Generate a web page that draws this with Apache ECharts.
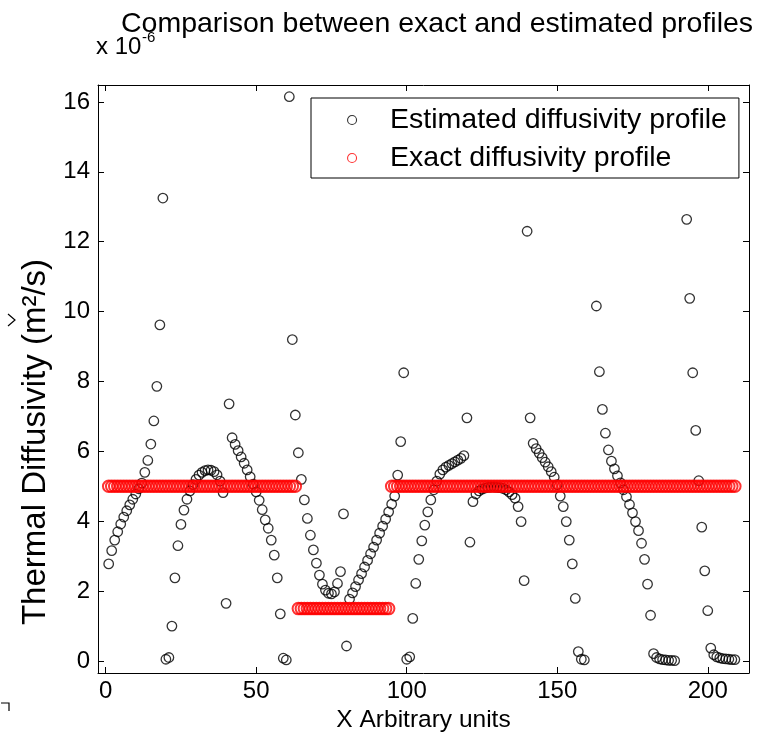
<!DOCTYPE html>
<html>
<head>
<meta charset="utf-8">
<script src="https://cdn.jsdelivr.net/npm/echarts@6/dist/echarts.min.js"></script>
<style>
html,body{margin:0;padding:0;background:#fff;}
#chart{width:762px;height:743px;}
</style>
</head>
<body>
<div id="chart"></div>
<script>
// ---- data (values in units of 1e-6 m^2/s) ----
const titleText = 'Comparison between exact and estimated profiles';
const xName = 'X Arbitrary units';
const yName = 'Thermal Diffusivity (m\u00B2/s)';
const xTicks = [0, 50, 100, 150, 200];
const yTicks = [0, 2, 4, 6, 8, 10, 12, 14, 16];

// Estimated profile, one value per x = 1 .. 209 (null = no visible point)
const estimatedY = [
  2.78, 3.16, 3.46, 3.70, 3.92, 4.12, 4.30, 4.47, 4.63, 4.78,   // 1-10
  4.93, 5.09, 5.40, 5.74, 6.21, 6.87, 7.86, 9.62, 13.25, 0.05,  // 11-20
  0.10, 1.00, 2.38, 3.30, 3.91, 4.32, 4.63, 4.87, 5.05, 5.20,   // 21-30
  5.32, 5.40, 5.45, 5.47, 5.46, 5.42, 5.33, 5.15, 4.82, 1.65,   // 31-40
  7.36, 6.39, 6.20, 6.02, 5.84, 5.66, 5.47, 5.27, 5.06, 4.84,   // 41-50
  4.60, 4.33, 4.04, 3.80, 3.46, 3.03, 2.38, 1.35, 0.08, 0.03,   // 51-60
  16.15, 9.20, 7.04, 5.96, 5.20, 4.61, 4.08, 3.60, 3.18, 2.80,  // 61-70
  2.46, 2.20, 2.03, 1.94, 1.92, 1.98, 2.22, 2.56, 4.21, 0.43,   // 71-80
  1.77, 1.95, 2.13, 2.32, 2.50, 2.69, 2.88, 3.07, 3.26, 3.46,   // 81-90
  3.66, 3.86, 4.06, 4.27, 4.49, 4.72, 5.32, 6.28, 8.25, 0.05,   // 91-100
  0.12, 1.22, 2.22, 2.91, 3.44, 3.89, 4.27, 4.61, 4.90, 5.15,   // 101-110
  5.35, 5.47, 5.55, 5.60, 5.65, 5.70, 5.75, 5.80, 5.88, 6.96,   // 111-120
  3.40, 4.56, 4.78, 4.87, 4.92, 4.95, 4.97, 4.98, 4.98, 4.97,   // 121-130
  4.96, 4.94, 4.90, 4.84, 4.76, 4.66, 4.42, 3.99, 2.30, 12.30,  // 131-140
  6.96, 6.23, 6.08, 5.95, 5.82, 5.69, 5.56, 5.42, 5.26, 5.05,   // 141-150
  4.72, 4.42, 3.99, 3.46, 2.78, 1.79, 0.27, 0.05, 0.03, null,   // 151-160
  null, null, 10.16, 8.28, 7.20, 6.52, 6.04, 5.72, 5.50, 5.30,  // 161-170
  5.10, 4.90, 4.70, 4.48, 4.24, 3.99, 3.73, 3.37, 2.91, 2.20,   // 171-180
  1.31, 0.21, 0.10, 0.06, 0.04, 0.03, 0.02, 0.02, 0.01, null,   // 181-190
  null, null, 12.64, 10.38, 8.25, 6.60, 5.16, 3.83, 2.58, 1.44, // 191-200
  0.37, 0.18, 0.12, 0.09, 0.07, 0.06, 0.05, 0.04, 0.04          // 201-209
];

// Exact profile: piecewise constant segments
const exactStart = [1, 64, 95];
const exactEnd   = [63, 94, 209];
const exactValue = [5, 1.5, 5];

// ---- build series data ----
const estimatedData = [];
estimatedY.forEach(function (v, i) { if (v !== null) estimatedData.push([i + 1, v]); });
const exactData = [];
for (let s = 0; s < exactStart.length; s++) {
  for (let x = exactStart[s]; x <= exactEnd[s]; x++) exactData.push([x, exactValue[s]]);
}

const FONT = '"Liberation Sans", Arial, sans-serif';
const xMin = -2.55, xMax = 213.7, yMin = -0.343, yMax = 16.485;

const chart = echarts.init(document.getElementById('chart'), null, {renderer: 'canvas'});

const axisLineStyle = {show: true, onZero: false, lineStyle: {color: '#000', width: 1}};
function xAxisDef(pos, showLabel) {
  return {
    type: 'value', position: pos, min: xMin, max: xMax,
    axisLine: axisLineStyle,
    axisTick: {show: true, inside: true, length: 6, lineStyle: {color: '#000'}, customValues: xTicks},
    axisLabel: {show: showLabel, customValues: xTicks, color: '#000', fontSize: 24, fontFamily: FONT, margin: 6},
    splitLine: {show: false},
    name: showLabel ? xName : '', nameLocation: 'middle', nameGap: 34,
    nameTextStyle: {color: '#000', fontSize: 24.5, fontFamily: FONT}
  };
}
function yAxisDef(pos, showLabel) {
  return {
    type: 'value', position: pos, min: yMin, max: yMax,
    axisLine: axisLineStyle,
    axisTick: {show: true, inside: true, length: 6, lineStyle: {color: '#000'}, customValues: yTicks},
    axisLabel: {show: showLabel, customValues: yTicks, color: '#000', fontSize: 24, fontFamily: FONT, margin: 8},
    splitLine: {show: false}
  };
}

chart.setOption({
  animation: false,
  backgroundColor: '#fff',
  title: {
    text: titleText, left: 116, top: 5,
    textStyle: {color: '#000', fontSize: 28.5, fontWeight: 'normal', fontFamily: FONT}
  },
  grid: {left: 98, top: 85, width: 651, height: 588, containLabel: false},
  xAxis: [xAxisDef('bottom', true), xAxisDef('top', false)],
  yAxis: [yAxisDef('left', true), yAxisDef('right', false)],
  legend: {
    orient: 'vertical', left: 311, top: 98,
    padding: [7, 12, 5, 36],
    borderColor: '#000', borderWidth: 1, backgroundColor: '#fff',
    itemWidth: 66, itemHeight: 9, itemGap: 8,
    textStyle: {color: '#000', fontSize: 28.5, fontFamily: FONT, lineHeight: 30},
    data: [
      {name: 'Estimated diffusivity profile', itemStyle: {borderWidth: 1.1}},
      {name: 'Exact diffusivity profile', itemStyle: {borderWidth: 1.1}}
    ]
  },
  graphic: [
    {
      type: 'text', x: 36, y: 442, rotation: Math.PI / 2, silent: true,
      style: {
        text: yName, fill: '#000', fontSize: 33, fontFamily: FONT,
        textAlign: 'center', textVerticalAlign: 'middle'
      }
    },
    {
      type: 'text', x: 96, y: 59, silent: true,
      style: {text: 'x 10', fill: '#000', fontSize: 24, fontFamily: FONT, textAlign: 'left', textVerticalAlign: 'bottom'}
    },
    {
      type: 'text', x: 142, y: 30, silent: true,
      style: {text: '-6', fill: '#000', fontSize: 15, fontFamily: FONT, textAlign: 'left', textVerticalAlign: 'top'}
    },
    {
      type: 'polyline', silent: true,
      shape: {points: [[8, 314], [15, 320], [8, 326]]},
      style: {stroke: '#000', lineWidth: 1.2, fill: null}
    },
    {
      type: 'polyline', silent: true,
      shape: {points: [[1, 703], [9, 703], [9, 711]]},
      style: {stroke: '#000', lineWidth: 1.2, fill: null}
    }
  ],
  series: [
    {
      name: 'Estimated diffusivity profile', type: 'scatter',
      xAxisIndex: 0, yAxisIndex: 0,
      symbol: 'circle', symbolSize: 9.5,
      itemStyle: {color: 'rgba(0,0,0,0)', borderColor: '#000', borderWidth: 1.3},
      data: estimatedData, z: 2
    },
    {
      name: 'Exact diffusivity profile', type: 'scatter',
      xAxisIndex: 0, yAxisIndex: 0,
      symbol: 'circle', symbolSize: 11.5,
      itemStyle: {color: 'rgba(0,0,0,0)', borderColor: '#ff0000', borderWidth: 2},
      data: exactData, z: 3
    }
  ]
});
</script>
</body>
</html>
